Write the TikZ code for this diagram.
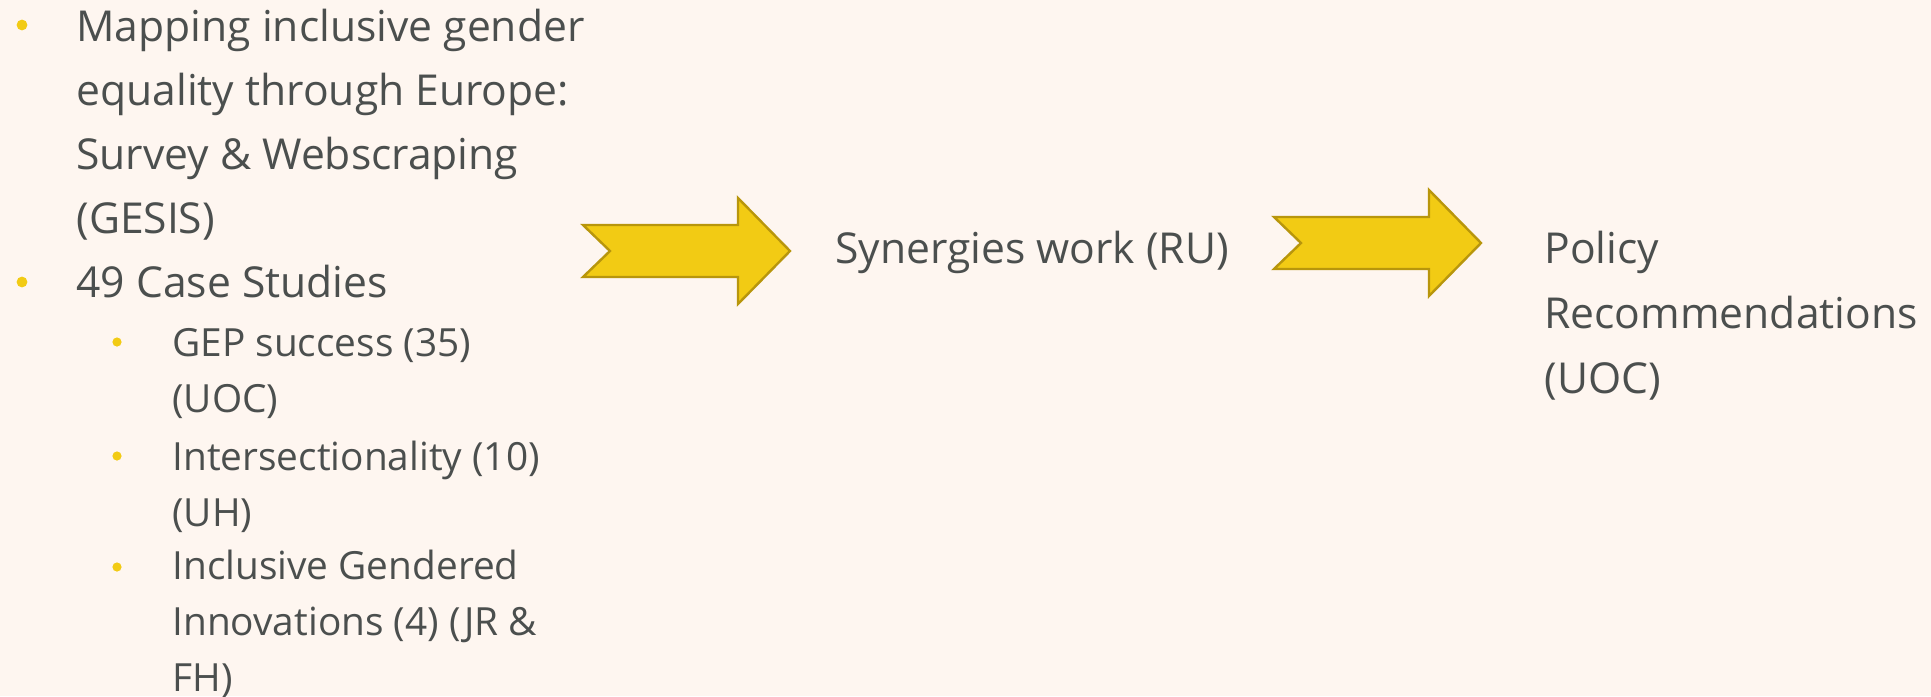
\documentclass[tikz,border=0pt]{standalone}
\usepackage{fontspec}
\setmainfont{Open Sans}
\usetikzlibrary{calc}
\definecolor{bgcream}{HTML}{FEF6F0}
\definecolor{txtgray}{HTML}{4B4F4E}
\definecolor{arrowyellow}{HTML}{F2CB14}
\definecolor{arrowedge}{HTML}{B8960C}
\tikzset{
    maintext/.style={anchor=base west, inner sep=0pt, align=left, text=txtgray,
        font=\fontsize{21.3}{32}\selectfont},
    subtext/.style={anchor=base west, inner sep=0pt, align=left, text=txtgray,
        font=\fontsize{19.4}{28}\selectfont},
    sidetext/.style={anchor=base west, inner sep=0pt, align=left, text=txtgray,
        font=\fontsize{21.3}{32.5}\selectfont},
    blockarrow/.style={fill=arrowyellow, draw=arrowedge, line width=1.2pt, line join=miter}
}

\begin{document}
\begin{tikzpicture}[x=0.5pt, y=-0.5pt]
    % background
    \fill[bgcream] (0,0) rectangle (1931,696);
    \useasboundingbox (0,0) rectangle (1931,696);

    % left list (nodes sit on the baseline of their last line)
    \fill[arrowyellow] (22,25) circle (5.4);
    \node[maintext] (mapping) at (76,233) {Mapping inclusive gender\\equality through Europe:\\Survey \& Webscraping\\(GESIS)};
    \fill[arrowyellow] (22,282) circle (5.4);
    \node[maintext] (cases) at (76,297) {49 Case Studies};

    \fill[arrowyellow] (117,342) circle (4.6);
    \node[subtext] (gep) at (172,412) {GEP success (35)\\(UOC)};
    \fill[arrowyellow] (117,456) circle (4.6);
    \node[subtext] (inter) at (172,526) {Intersectionality (10)\\(UH)};
    \fill[arrowyellow] (117,567) circle (4.6);
    \node[subtext] (innov) at (172,691) {Inclusive Gendered\\Innovations (4) (JR \&\\FH)};

    % first arrow
    \begin{scope}[shift={(583,251)}]
        \draw[blockarrow] (0,-26) -- (155,-26) -- (155,-53) -- (207,0)
            -- (155,53) -- (155,26) -- (0,26) -- (27,0) -- cycle;
    \end{scope}
    \node[maintext] (synergy) at (835,263) {Synergies work (RU)};

    % second arrow
    \begin{scope}[shift={(1274,243)}]
        \draw[blockarrow] (0,-26) -- (155,-26) -- (155,-53) -- (207,0)
            -- (155,53) -- (155,26) -- (0,26) -- (27,0) -- cycle;
    \end{scope}
    \node[sidetext] (policy) at (1544,393) {Policy\\Recommendations\\(UOC)};
\end{tikzpicture}
\end{document}
